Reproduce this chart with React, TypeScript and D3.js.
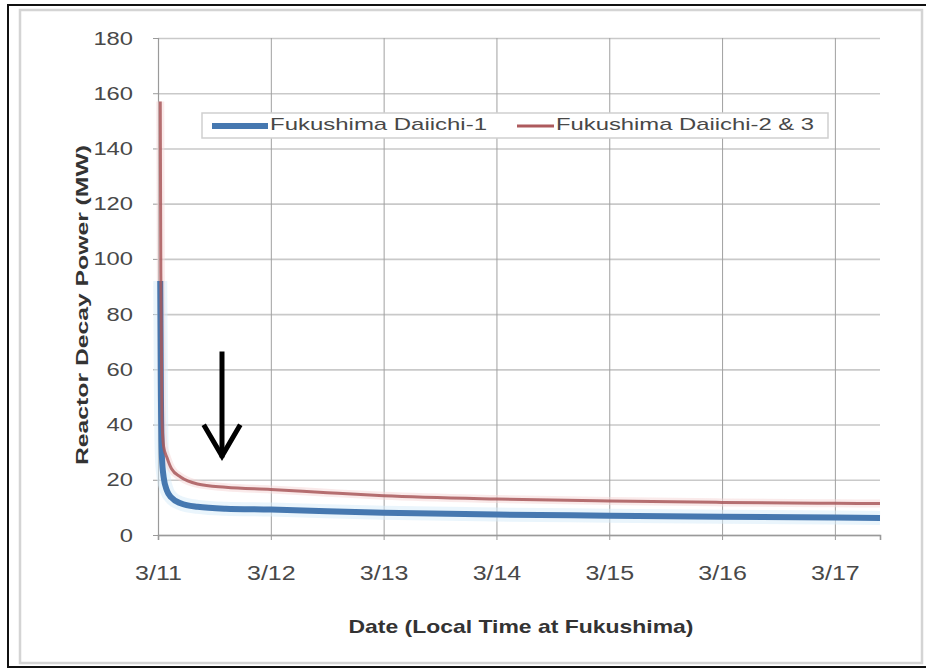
import React, { useEffect, useRef } from 'react';
import * as d3 from 'd3';

// days after 3/11 00:00 on the chart's axis
const dayTicks = [0, 1, 2, 3, 4, 5, 6];
const dayLabels = ['3/11', '3/12', '3/13', '3/14', '3/15', '3/16', '3/17'];
const powerTicks = [0, 20, 40, 60, 80, 100, 120, 140, 160, 180];

const times = [0.02, 0.025, 0.035, 0.05, 0.08, 0.12, 0.2, 0.35, 0.6, 1.0, 1.5, 2.0, 3.0, 4.0, 5.0, 6.0, 6.4];
const unit1 = [92, 55, 28, 21, 16, 13.5, 11.5, 10.2, 9.5, 9.2, 8.6, 8.1, 7.4, 7.0, 6.6, 6.3, 6.2];
const unit23 = [157, 95, 42, 32, 28, 24, 21, 18.5, 17.3, 16.5, 15.3, 14.2, 13, 12.3, 11.8, 11.5, 11.4];

const seriesNames = ['Fukushima Daiichi-1', 'Fukushima Daiichi-2 & 3'];

const FONT = "'Liberation Sans', Arial, sans-serif";
const STRETCH = 'scale(1.25,1)';

const App = () => {
  const svgRef = useRef<SVGSVGElement>(null);

  useEffect(() => {
    const svg = d3.select(svgRef.current);
    svg.selectAll('*').remove();

    const W = 926, H = 669;
    const left = 158, right = 880, top = 38, bottom = 535;

    svg.attr('width', W).attr('height', H);

    // outer frame (scan border, right side runs off the page)
    svg.append('rect').attr('x', 0).attr('y', 0).attr('width', W).attr('height', H).attr('fill', '#fff');
    svg.append('rect').attr('x', 8).attr('y', 5).attr('width', W + 10).attr('height', H - 7)
      .attr('fill', 'none').attr('stroke', '#111').attr('stroke-width', 2);
    svg.append('rect').attr('x', 20).attr('y', 10).attr('width', 902).attr('height', 653)
      .attr('fill', 'none').attr('stroke', '#d4d4d4').attr('stroke-width', 2.5);

    const x = d3.scaleLinear().domain([0, 6.4]).range([left, right]);
    const y = d3.scaleLinear().domain([0, 180]).range([bottom, top]);

    const g = svg.append('g');

    // horizontal grid
    g.append('g')
      .attr('transform', `translate(${left},0)`)
      .call(d3.axisLeft(y).tickValues(powerTicks).tickSize(-(right - left)).tickFormat(() => ''))
      .call(a => a.select('.domain').remove())
      .selectAll('line').attr('stroke', '#c9c9c9').attr('stroke-width', 1.6);

    // vertical grid
    g.append('g')
      .attr('transform', `translate(0,${bottom})`)
      .call(d3.axisBottom(x).tickValues(dayTicks.slice(1)).tickSize(-(bottom - top)).tickFormat(() => ''))
      .call(a => a.select('.domain').remove())
      .selectAll('line').attr('stroke', '#a0a0a0').attr('stroke-width', 1);

    // y axis
    const ya = g.append('g')
      .attr('transform', `translate(${left},0)`)
      .call(d3.axisLeft(y).tickValues(powerTicks).tickSize(5).tickPadding(15));
    ya.select('.domain').attr('stroke', '#9a9a9a').attr('stroke-width', 1.2);
    ya.selectAll('line').attr('stroke', '#9a9a9a');
    ya.selectAll('text').attr('font-family', FONT).attr('font-size', 19).attr('fill', '#484848')
      .attr('transform', STRETCH);

    // x axis
    const xa = g.append('g')
      .attr('transform', `translate(0,${bottom})`)
      .call(d3.axisBottom(x).tickValues(dayTicks).tickFormat((d, i) => dayLabels[i]).tickSize(5).tickPadding(32));
    xa.select('.domain').attr('stroke', '#9a9a9a').attr('stroke-width', 1.6);
    xa.selectAll('line').attr('stroke', '#9a9a9a');
    xa.selectAll('text').attr('font-family', FONT).attr('font-size', 20).attr('fill', '#484848')
      .attr('dy', '0.71em').attr('y', 31).attr('transform', STRETCH);

    // axis titles
    svg.append('text')
      .attr('transform', `translate(84,305) rotate(-90)`)
      .attr('text-anchor', 'middle').attr('dominant-baseline', 'middle')
      .attr('font-family', FONT).attr('font-weight', 'bold').attr('font-size', 17).attr('fill', '#333')
      .attr('textLength', 320).attr('lengthAdjust', 'spacingAndGlyphs')
      .text('Reactor Decay Power (MW)');
    svg.append('text')
      .attr('x', 521).attr('y', 628)
      .attr('text-anchor', 'middle').attr('dominant-baseline', 'middle')
      .attr('font-family', FONT).attr('font-weight', 'bold').attr('font-size', 19).attr('fill', '#333')
      .attr('textLength', 345).attr('lengthAdjust', 'spacingAndGlyphs')
      .text('Date (Local Time at Fukushima)');

    const line = d3.line<number>()
      .x((d, i) => x(times[i]))
      .y(d => y(d))
      .curve(d3.curveMonotoneX);

    // soft halos (scan blur)
    g.append('path').datum(unit1).attr('d', line).attr('fill', 'none')
      .attr('stroke', '#d6ecfa').attr('stroke-width', 14).attr('opacity', 0.5);
    g.append('path').datum(unit23).attr('d', line).attr('fill', 'none')
      .attr('stroke', '#f6d6d6').attr('stroke-width', 8).attr('opacity', 0.5);

    g.append('path').datum(unit1).attr('d', line).attr('fill', 'none')
      .attr('stroke', '#4678b0').attr('stroke-width', 6).attr('stroke-linejoin', 'round');
    g.append('path').datum(unit23).attr('d', line).attr('fill', 'none')
      .attr('stroke', '#a8585b').attr('stroke-width', 3).attr('stroke-linejoin', 'round')
      .attr('opacity', 0.85);

    // legend
    const lg = svg.append('g');
    lg.append('rect').attr('x', 202).attr('y', 113).attr('width', 626).attr('height', 25)
      .attr('fill', '#fff').attr('stroke', '#cfcfcf').attr('stroke-width', 1.5);
    const items = [
      { name: seriesNames[0], x0: 212, x1: 268, color: '#4678b0', w: 6, len: 217 },
      { name: seriesNames[1], x0: 517, x1: 554, color: '#ad5a5d', w: 3, len: 258 },
    ];
    items.forEach(it => {
      lg.append('line').attr('x1', it.x0).attr('x2', it.x1).attr('y1', 126).attr('y2', 126)
        .attr('stroke', it.color).attr('stroke-width', it.w);
      lg.append('text').attr('x', it.x1 + 2).attr('y', 126).attr('dominant-baseline', 'middle')
        .attr('font-family', FONT).attr('font-size', 17).attr('fill', '#484848')
        .attr('textLength', it.len).attr('lengthAdjust', 'spacingAndGlyphs')
        .text(it.name);
    });

    // arrow annotation
    const ar = svg.append('g').attr('stroke', '#000').attr('stroke-width', 5).attr('fill', 'none')
      .attr('stroke-linecap', 'square');
    ar.append('line').attr('x1', 222).attr('y1', 354).attr('x2', 222).attr('y2', 455);
    ar.append('polyline').attr('points', '205,427 222,456 239,427').attr('stroke-linejoin', 'miter');
  }, []);

  return (
    <div style={{ position: 'absolute', left: 0, top: 0 }}>
      <svg ref={svgRef}></svg>
    </div>
  );
};

export default App;
